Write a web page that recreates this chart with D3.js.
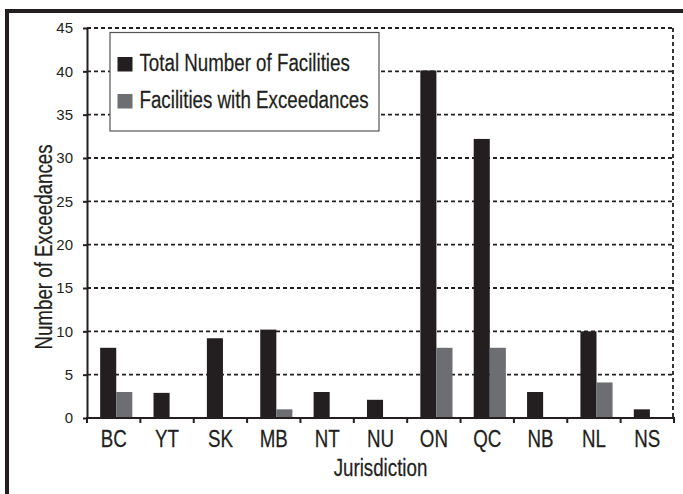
<!DOCTYPE html>
<html>
<head>
<meta charset="utf-8">
<script src="https://cdn.jsdelivr.net/npm/d3@7"></script>
<style>
  html, body { margin: 0; padding: 0; background: #ffffff; }
  svg { display: block; }
  .cond { font-family: "Liberation Sans", Arial, Helvetica, sans-serif; }
</style>
</head>
<body>
<script>
// ---- data ----
const categories = ["BC", "YT", "SK", "MB", "NT", "NU", "ON", "QC", "NB", "NL", "NS"];
const totalFacilities = [8.1, 2.9, 9.2, 10.2, 3.0, 2.1, 40.1, 32.2, 3.0, 10.0, 1.0];
const facilitiesWithExceedances = [3.0, 0, 0, 1.0, 0, 0, 8.1, 8.1, 0, 4.1, 0];
const seriesNames = ["Total Number of Facilities", "Facilities with Exceedances"];
const yTicks = [0, 5, 10, 15, 20, 25, 30, 35, 40, 45];
const xTitle = "Jurisdiction";
const yTitle = "Number of Exceedances";

(function () {
const W = 683, H = 494;
const colors = ["#231f20", "#6d6e71"];
const ink = "#231f20";
const SX = 0.815; // horizontal condensing of the label face

const svg = d3.select("body").append("svg").attr("width", W).attr("height", H);

// outer frame
svg.append("rect").attr("x", 7).attr("y", 11).attr("width", W + 20).attr("height", H + 20)
  .attr("fill", "none").attr("stroke", ink).attr("stroke-width", 4);

const pL = 87, pR = 674, pT = 28, pB = 418;

const x = d3.scaleBand().domain(categories).range([pL, pR]).paddingInner(0).paddingOuter(0);
const xs = d3.scaleBand().domain([0, 1]).range([0, x.bandwidth()]).paddingInner(0).paddingOuter(0.66).align(0.62);
const y = d3.scaleLinear().domain([0, 45]).range([pB, pT]);

function condText(parent, tx, ty, str, size, extra) {
  return parent.append("text").attr("class", "cond")
    .attr("transform", `translate(${tx},${ty})${extra || ""} scale(${SX},1)`)
    .attr("fill", ink).attr("stroke", ink).attr("stroke-width", 0.25)
    .style("font-size", size + "px").text(str);
}

// gridlines (dashed)
const grid = svg.append("g");
grid.selectAll("line.h").data(yTicks.filter(d => d > 0)).enter().append("line")
  .attr("x1", pL).attr("x2", pR - 1)
  .attr("y1", d => y(d)).attr("y2", d => y(d))
  .attr("stroke", ink).attr("stroke-width", 1.8).attr("stroke-dasharray", "4,3");
grid.append("line")
  .attr("x1", pR - 1).attr("x2", pR - 1).attr("y1", y(45)).attr("y2", y(0))
  .attr("stroke", ink).attr("stroke-width", 1.8).attr("stroke-dasharray", "4,3");

// bars
const rows = categories.map((c, i) => ({ c, v: [totalFacilities[i], facilitiesWithExceedances[i]] }));
const gBars = svg.append("g");
rows.forEach(r => {
  r.v.forEach((v, k) => {
    if (v <= 0) return;
    gBars.append("rect")
      .attr("x", x(r.c) + xs(k)).attr("width", xs.bandwidth())
      .attr("y", y(v)).attr("height", y(0) - y(v))
      .attr("fill", colors[k]);
  });
});

// y axis
const yAxis = svg.append("g").attr("transform", `translate(${pL},0)`)
  .call(d3.axisLeft(y).tickValues(yTicks).tickSize(4).tickPadding(10).tickSizeOuter(0));
yAxis.select(".domain").attr("stroke", ink).attr("stroke-width", 2);
yAxis.selectAll(".tick line").attr("stroke", ink).attr("stroke-width", 2);
yAxis.selectAll(".tick text").attr("fill", ink)
  .style("font-family", "'Liberation Sans', Arial, sans-serif").style("font-size", "15px");
svg.append("line").attr("x1", pL).attr("x2", pL).attr("y1", pB).attr("y2", pB + 5)
  .attr("stroke", ink).attr("stroke-width", 2);

// x axis: line, boundary ticks, labels
svg.append("line").attr("x1", pL - 1).attr("x2", pR + 1).attr("y1", pB).attr("y2", pB)
  .attr("stroke", ink).attr("stroke-width", 2);
const bounds = categories.map(c => x(c)).concat([x(categories[categories.length - 1]) + x.bandwidth()]);
svg.append("g").selectAll("line").data(bounds.slice(1)).enter().append("line")
  .attr("x1", d => d).attr("x2", d => d).attr("y1", pB).attr("y2", pB + 5)
  .attr("stroke", ink).attr("stroke-width", 2);
const gx = svg.append("g");
categories.forEach(c => {
  condText(gx, x(c) + x.bandwidth() / 2, 447, c, 23).attr("text-anchor", "middle");
});

// axis titles
condText(svg, (pL + pR) / 2, 476, xTitle, 23).attr("text-anchor", "middle");
condText(svg, 52, 247, yTitle, 23, " rotate(-90)").attr("text-anchor", "middle");

// legend
const lg = svg.append("g");
lg.append("rect").attr("x", 110).attr("y", 32.5).attr("width", 269).attr("height", 98.5)
  .attr("fill", "#ffffff").attr("stroke", "#555555").attr("stroke-width", 1.2);
const legendY = [71, 108];
seriesNames.forEach((name, k) => {
  lg.append("rect").attr("x", 117.5).attr("y", legendY[k] - 14).attr("width", 15).attr("height", 14.5)
    .attr("fill", colors[k]);
  condText(lg, 139.5, legendY[k], name, 23);
});
})();
</script>
</body>
</html>
